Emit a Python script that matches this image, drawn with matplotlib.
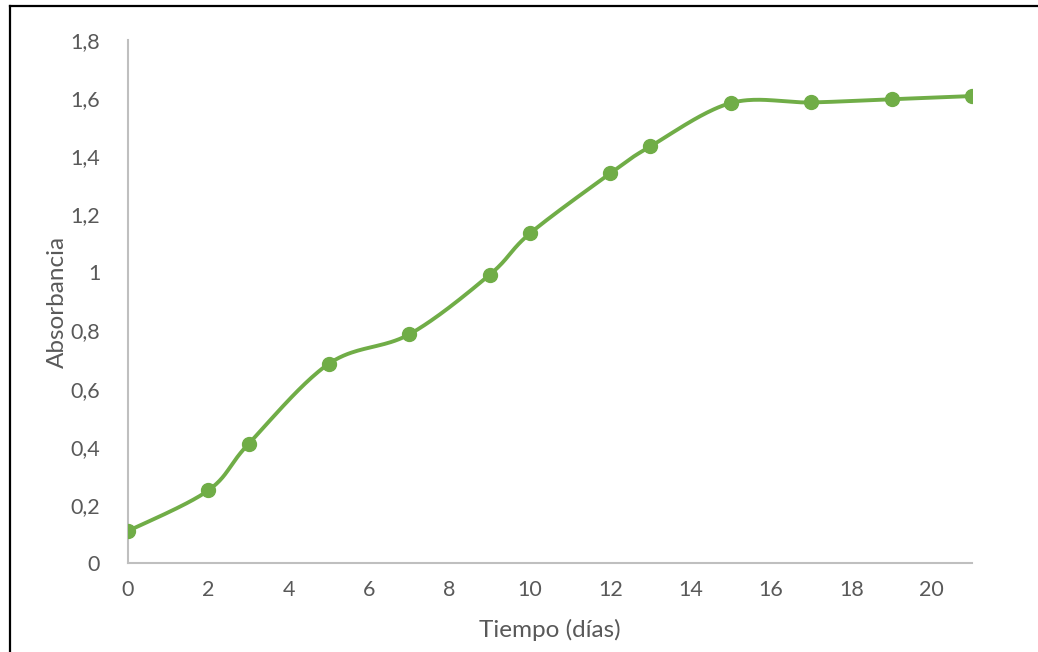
import numpy as np
import matplotlib.pyplot as plt
from matplotlib.lines import Line2D

# Absorbance readings over time
dias = [0, 2, 3, 5, 7, 9, 10, 12, 13, 15, 17, 19, 21]
absorbancia = [0.11, 0.25, 0.41, 0.686, 0.787, 0.992, 1.134, 1.341, 1.434, 1.583, 1.585, 1.596, 1.607]

x_ticks = [0, 2, 4, 6, 8, 10, 12, 14, 16, 18, 20]
y_ticks = [0, 0.2, 0.4, 0.6, 0.8, 1.0, 1.2, 1.4, 1.6, 1.8]
y_labels = ['0', '0,2', '0,4', '0,6', '0,8', '1', '1,2', '1,4', '1,6', '1,8']

VERDE = '#70AD47'
GRIS = '#595959'


def smooth_curve(xs, ys, n=40):
    """Cubic Bezier through every point, Catmull-Rom style tangents."""
    p = np.column_stack([xs, ys]).astype(float)
    pts = []
    for i in range(len(p) - 1):
        p0 = p[i - 1] if i > 0 else p[i]
        p1, p2 = p[i], p[i + 1]
        p3 = p[i + 2] if i + 2 < len(p) else p[i + 1]
        c1 = p1 + (p2 - p0) / 6.0
        c2 = p2 - (p3 - p1) / 6.0
        t = np.linspace(0, 1, n)[:, None]
        seg = ((1 - t) ** 3) * p1 + 3 * ((1 - t) ** 2) * t * c1 + 3 * (1 - t) * t ** 2 * c2 + t ** 3 * p2
        pts.append(seg if i == 0 else seg[1:])
    pts = np.vstack(pts)
    return pts[:, 0], pts[:, 1]


plt.rcParams['font.family'] = ['Lato', 'DejaVu Sans']

fig = plt.figure(figsize=(10.38, 6.52), dpi=100)
ax = fig.add_axes([0.1233, 0.1365, 0.8131, 0.8022])

sx, sy = smooth_curve(dias, absorbancia)
ax.plot(sx, sy, color=VERDE, lw=2.8, solid_capstyle='round', zorder=3)
ax.plot(dias, absorbancia, 'o', color=VERDE, ms=10, zorder=4)

ax.set_xlim(0, 21)
ax.set_ylim(0, 1.8)
ax.set_xticks(x_ticks)
ax.set_yticks(y_ticks)
ax.set_yticklabels(y_labels)

for side in ['top', 'right']:
    ax.spines[side].set_visible(False)
for side in ['left', 'bottom']:
    ax.spines[side].set_color('#BFBFBF')
    ax.spines[side].set_linewidth(1.5)

ax.tick_params(length=0, labelsize=15.5, colors=GRIS, pad=12)
ax.tick_params(axis='y', pad=20)

ax.set_xlabel('Tiempo (días)', fontsize=17.5, color=GRIS, labelpad=14)
ax.set_ylabel('Absorbancia', fontsize=17.5, color=GRIS, labelpad=2)

# outer frame (left and top edges)
fig.add_artist(Line2D([9.5 / 1038, 9.5 / 1038], [0, 1 - 6 / 652], color='black', lw=1.6, transform=fig.transFigure))
fig.add_artist(Line2D([9.5 / 1038, 1], [1 - 6 / 652, 1 - 6 / 652], color='black', lw=1.6, transform=fig.transFigure))

fig.savefig('out.png', dpi=100)
